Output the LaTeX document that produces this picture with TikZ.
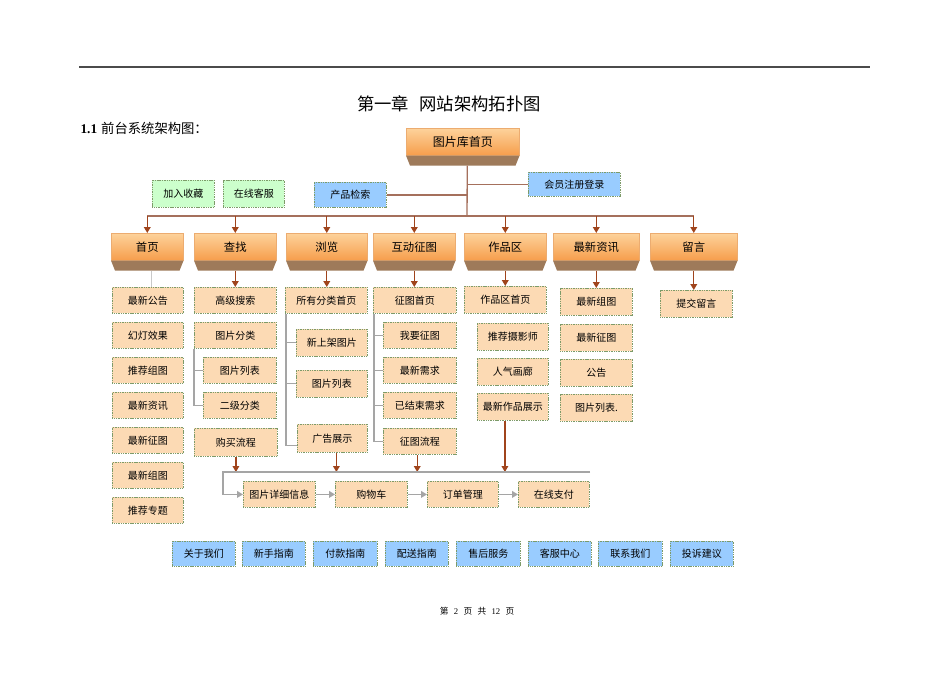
\documentclass[tikz,border=0pt]{standalone}
\usepackage{fontspec}
\setmainfont{Liberation Serif}
\newfontfamily\cjk{Noto Sans CJK SC}
\usetikzlibrary{arrows.meta}

\definecolor{headtop}{RGB}{253,210,155}
\definecolor{headbot}{RGB}{246,158,76}
\definecolor{headline}{RGB}{236,172,112}
\definecolor{bevelc}{RGB}{158,122,90}
\definecolor{subfill}{RGB}{252,218,180}
\definecolor{subline}{RGB}{125,155,105}
\definecolor{bluefill}{RGB}{153,204,255}
\definecolor{greenfill}{RGB}{204,255,204}
\definecolor{treec}{RGB}{165,112,92}
\definecolor{arrc}{RGB}{160,68,28}
\definecolor{grayc}{RGB}{165,165,165}
\definecolor{rulec}{RGB}{75,75,75}

\tikzset{every picture/.style={line width=0.75pt}}
\tikzset{
  w/.style={minimum width=#1*0.75pt},
  h/.style={minimum height=#1*0.75pt},
  head/.style={anchor=north west, draw=headline, line width=0.4pt, top color=headtop, bottom color=headbot, h=27, inner sep=0pt, font=\cjk\fontsize{8.5}{10}\selectfont},
  sub/.style={anchor=north west, draw=subline, fill=subfill, line width=0.6pt, dash pattern=on 0.8pt off 0.5pt, h=26, inner sep=0pt, font=\cjk\fontsize{7.5}{9}\selectfont},
  bluebox/.style={sub, fill=bluefill},
  greenbox/.style={sub, fill=greenfill},
  tree/.style={draw=treec, line width=1pt},
  arr/.style={draw=arrc, line width=1pt, -{Triangle[length=4.5pt,width=5pt]}},
  bracket/.style={draw=grayc, line width=0.8pt},
  flow/.style={draw=grayc, line width=1.2pt, -{Triangle[length=4.5pt,width=5pt]}},
}

% brown bevel under a heading box, and the point below it
% (yscale=-1 in the picture, so a positive yshift goes down)
\newcommand{\headbevel}[1]{%
  \fill[bevelc] (#1.south west) -- (#1.south east) -- ([xshift=-3pt,yshift=7.5pt]#1.south east) -- ([xshift=3pt,yshift=7.5pt]#1.south west) -- cycle;
  \coordinate (#1-b) at ([yshift=7.5pt]#1.south);}

\begin{document}
\begin{tikzpicture}[x=0.75pt,y=0.75pt,yscale=-1,xscale=1]
\fill[white] (0,0) rectangle (950,672);
\path[use as bounding box] (0,0) rectangle (950,672);

% page rule and titles
\draw[rulec, line width=1.5pt] (79,67) -- (870,67);
\node[font=\cjk\fontsize{13}{15}\selectfont] (title) at (449,104) {第一章\hspace{0.6em}网站架构拓扑图};
\node[anchor=west, inner sep=0pt, font=\fontsize{10}{12}\selectfont] (sec) at (80,128) {\textbf{1.1}\hspace{3pt}{\cjk 前台系统架构图：}};

% root
\node[head, w=113, font=\cjk\fontsize{9}{11}\selectfont] (root) at (406,128) {图片库首页};
\headbevel{root}
\node[bluebox, w=92, h=24] (huiyuan) at (528,172) {会员注册登录};
\node[bluebox, w=72, h=25] (chanpin) at (314,182) {产品检索};
\node[greenbox, w=62, h=27] (jiaru) at (152,180) {加入收藏};
\node[greenbox, w=61, h=27] (kefu) at (223,180) {在线客服};

% headings
\node[head, w=72] (shouye) at (111,233) {首页};
\node[head, w=82] (chazhao) at (194,233) {查找};
\node[head, w=81] (liulan) at (286,233) {浏览};
\node[head, w=82] (hudong) at (373,233) {互动征图};
\node[head, w=82] (zuopin) at (464,233) {作品区};
\node[head, w=86] (zixun) at (553,233) {最新资讯};
\node[head, w=87] (liuyan) at (650,233) {留言};
\headbevel{shouye}
\headbevel{chazhao}
\headbevel{liulan}
\headbevel{hudong}
\headbevel{zuopin}
\headbevel{zixun}
\headbevel{liuyan}

% first column
\node[sub, w=71] (sy1) at (112,287) {最新公告};
\node[sub, w=71] (sy2) at (112,322) {幻灯效果};
\node[sub, w=71] (sy3) at (112,357) {推荐组图};
\node[sub, w=71] (sy4) at (112,392) {最新资讯};
\node[sub, w=71] (sy5) at (112,427) {最新征图};
\node[sub, w=71] (sy6) at (112,462) {最新组图};
\node[sub, w=71] (sy7) at (112,497) {推荐专题};

% search column
\node[sub, w=82] (cz1) at (194,287) {高级搜索};
\node[sub, w=82] (cz2) at (194,322) {图片分类};
\node[sub, w=73] (cz3) at (203,357) {图片列表};
\node[sub, w=73] (cz4) at (203,392) {二级分类};
\node[sub, w=83, h=28] (cz5) at (194,428) {购买流程};

% browse column
\node[sub, w=82] (ll1) at (285,287) {所有分类首页};
\node[sub, w=71, h=27] (ll2) at (296,329) {新上架图片};
\node[sub, w=71, h=27] (ll3) at (296,370) {图片列表};
\node[sub, w=70, h=28] (ll4) at (297,424) {广告展示};

% contest column
\node[sub, w=83] (hd1) at (373,287) {征图首页};
\node[sub, w=73] (hd2) at (383,322) {我要征图};
\node[sub, w=73] (hd3) at (383,357) {最新需求};
\node[sub, w=73] (hd4) at (383,392) {已结束需求};
\node[sub, w=73] (hd5) at (383,428) {征图流程};

% works column
\node[sub, w=82, h=27] (zp1) at (464,286) {作品区首页};
\node[sub, w=71, h=27] (zp2) at (477,323) {推荐摄影师};
\node[sub, w=71, h=27] (zp3) at (477,358) {人气画廊};
\node[sub, w=71, h=27] (zp4) at (477,393) {最新作品展示};

% news column
\node[sub, w=72, h=27] (zx1) at (560,288) {最新组图};
\node[sub, w=72, h=27] (zx2) at (560,324) {最新征图};
\node[sub, w=72, h=27] (zx3) at (560,359) {公告};
\node[sub, w=72, h=27] (zx4) at (560,394) {图片列表.};

% message column
\node[sub, w=72, h=27] (ly1) at (660,290) {提交留言};

% purchase flow
\node[sub, w=72] (xiangxi) at (243,481) {图片详细信息};
\node[sub, w=72] (gouwu) at (335,481) {购物车};
\node[sub, w=71] (dingdan) at (427,481) {订单管理};
\node[sub, w=71] (zhifu) at (518,481) {在线支付};

% bottom links
\node[bluebox, w=63, h=25] (db1) at (172,541) {关于我们};
\node[bluebox, w=63, h=25] (db2) at (242,541) {新手指南};
\node[bluebox, w=64, h=25] (db3) at (313,541) {付款指南};
\node[bluebox, w=63, h=25] (db4) at (385,541) {配送指南};
\node[bluebox, w=64, h=25] (db5) at (456,541) {售后服务};
\node[bluebox, w=63, h=25] (db6) at (528,541) {客服中心};
\node[bluebox, w=64, h=25] (db7) at (598,541) {联系我们};
\node[bluebox, w=63, h=25] (db8) at (670,541) {投诉建议};

% footer
\node[font=\fontsize{6.5}{8}\selectfont] (foot) at (477,611) {{\cjk 第}\hspace{4pt}2\hspace{4pt}{\cjk 页}\hspace{4pt}{\cjk 共}\hspace{4pt}12\hspace{4pt}{\cjk 页}};

% tree from root
\coordinate (trunk) at ([xshift=3.4pt]root-b);
\coordinate (bus) at (467,216);
\draw[tree] (trunk) -- (bus);
\draw[tree] (huiyuan.west) -- (huiyuan.west -| trunk);
\draw[tree] (chanpin.east) -- (chanpin.east -| trunk);
\draw[tree] (shouye.north |- bus) -- (liuyan.north |- bus);
\draw[arr] (shouye.north |- bus) -- (shouye.north);
\draw[arr] (chazhao.north |- bus) -- (chazhao.north);
\draw[arr] (liulan.north |- bus) -- (liulan.north);
\draw[arr] (hudong.north |- bus) -- (hudong.north);
\draw[arr] (zuopin.north |- bus) -- (zuopin.north);
\draw[arr] (zixun.north |- bus) -- (zixun.north);
\draw[arr] (liuyan.north |- bus) -- (liuyan.north);

% headings to first items
\draw[bracket, draw=grayc!60] ([xshift=3pt]shouye-b) -- ([xshift=3pt]shouye-b |- sy1.north);
\draw[arr] (chazhao-b) -- (chazhao-b |- cz1.north);
\draw[arr] (liulan-b) -- (liulan-b |- ll1.north);
\draw[arr] (hudong-b) -- (hudong-b |- hd1.north);
\draw[arr] (zuopin-b) -- (zuopin-b |- zp1.north);
\draw[arr] (zixun-b) -- (zixun-b |- zx1.north);
\draw[arr] (liuyan-b) -- (liuyan-b |- ly1.north);

% grey brackets
\draw[bracket] (cz2.south west) |- (cz3.west);
\draw[bracket] (cz2.south west) |- (cz4.west);
\draw[bracket] ([xshift=0.75pt]ll1.south west) |- (ll2.west);
\draw[bracket] ([xshift=0.75pt]ll1.south west) |- (ll3.west);
\draw[bracket] ([xshift=0.75pt]ll1.south west) |- ([yshift=5pt]ll4.west);
\draw[bracket] ([xshift=0.75pt]hd1.south west) |- (hd2.west);
\draw[bracket] ([xshift=0.75pt]hd1.south west) |- (hd3.west);
\draw[bracket] ([xshift=0.75pt]hd1.south west) |- (hd4.west);
\draw[bracket] ([xshift=0.75pt]hd1.south west) |- (hd5.west);

% into the purchase flow
\coordinate (bus2L) at (223,472);
\coordinate (bus2R) at (590,472);
\draw[arr] (cz5.south) -- (cz5.south |- bus2L);
\draw[arr] ([xshift=3pt]ll4.south) -- ([xshift=3pt]ll4.south |- bus2L);
\draw[arr] ([xshift=-2pt]hd5.south) -- ([xshift=-2pt]hd5.south |- bus2L);
\draw[arr] ([xshift=-6pt]zp4.south) -- ([xshift=-6pt]zp4.south |- bus2L);
\draw[flow] (bus2R) -- (bus2L) |- (xiangxi.west);
\draw[flow] (xiangxi.east) -- (gouwu.west);
\draw[flow] (gouwu.east) -- (dingdan.west);
\draw[flow] (dingdan.east) -- (zhifu.west);

\end{tikzpicture}
\end{document}
